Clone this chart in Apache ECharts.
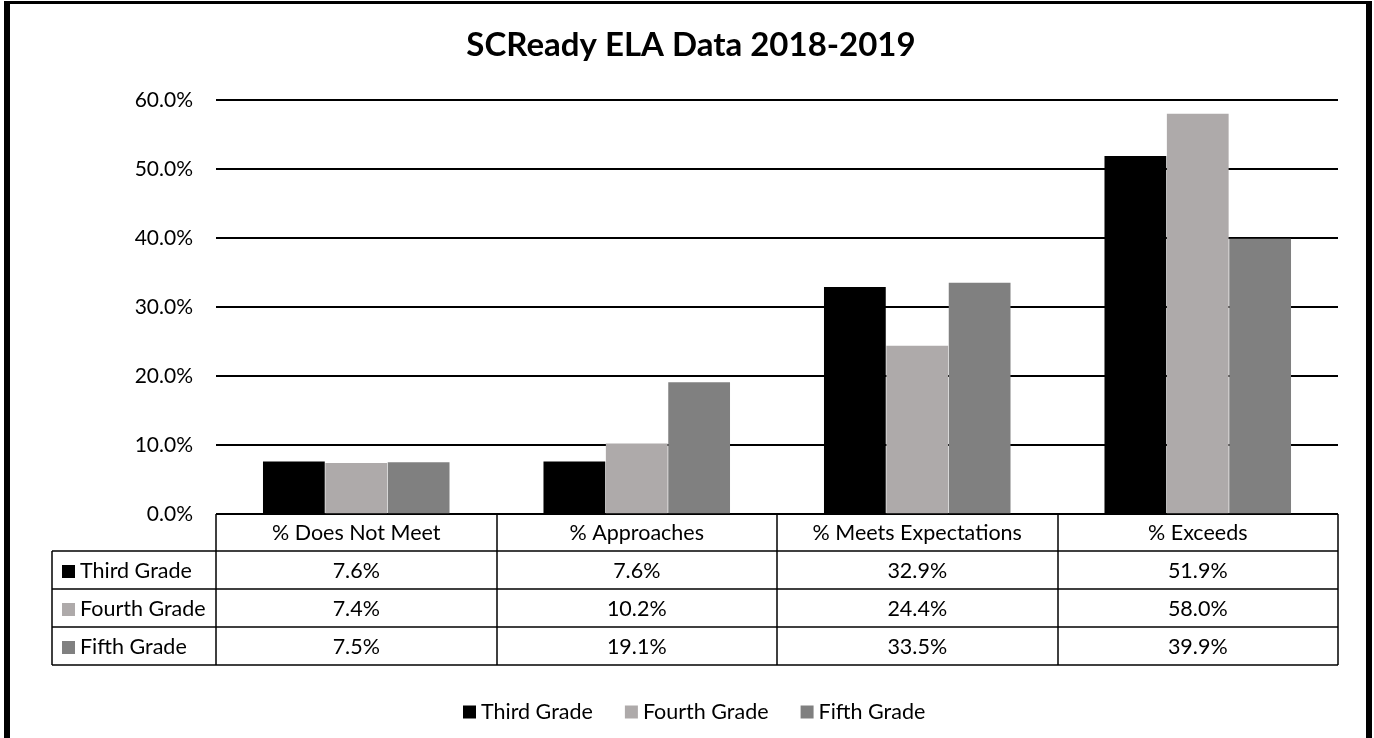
<!DOCTYPE html>
<html lang="en">
<head>
  <meta charset="UTF-8">
  <title>SCReady ELA Data 2018-2019</title>
  <style>
    html, body { margin: 0; padding: 0; width: 100%; height: 100%; background: #fff; }
    #main { width: 1374px; height: 738px; }
  </style>
  <script src="https://cdn.jsdelivr.net/npm/echarts@6/dist/echarts.min.js"></script>
</head>
<body>
  <div id="main"></div>
  <script>
    // data
    const categories = ['% Does Not Meet', '% Approaches', '% Meets Expectations', '% Exceeds'];
    const seriesNames = ['Third Grade', 'Fourth Grade', 'Fifth Grade'];
    const thirdGrade = [7.6, 7.6, 32.9, 51.9];
    const fourthGrade = [7.4, 10.2, 24.4, 58.0];
    const fifthGrade = [7.5, 19.1, 33.5, 39.9];
    const colors = ['#000000', '#AEAAAA', '#808080'];

    const values = [thirdGrade, fourthGrade, fifthGrade];
    const FONT = 'Lato';
    const fmt = v => v.toFixed(1) + '%';

    // table layout (lines up with the grid below)
    const tblLeft = 52, colLeft = 216, tblRight = 1338;
    const rowY = [514, 551, 589, 627, 665];
    const colW = (tblRight - colLeft) / categories.length;

    const myChart = echarts.init(document.getElementById('main'));

    const graphics = [];
    const line = (x1, y1, x2, y2, w) => graphics.push({
      type: 'line', shape: { x1, y1, x2, y2 },
      style: { stroke: '#000', lineWidth: w || 1.5 }, z: 100
    });
    const text = (x, y, str, align, extra) => graphics.push({
      type: 'text', x, y, z: 101,
      style: Object.assign({
        text: str, fill: '#000', font: '21.5px ' + FONT,
        textAlign: align || 'center', textVerticalAlign: 'middle'
      }, extra || {})
    });

    // outer frame
    graphics.push({ type: 'rect', shape: { x: 4, y: 1, width: 6, height: 737 }, style: { fill: '#000' } });
    graphics.push({ type: 'rect', shape: { x: 1366, y: 1, width: 6, height: 737 }, style: { fill: '#000' } });
    graphics.push({ type: 'rect', shape: { x: 4, y: 1, width: 1368, height: 3 }, style: { fill: '#000' } });

    // title
    text(691, 45, 'SCReady ELA Data 2018-2019', 'center', { font: 'bold 33px ' + FONT });

    // data table lines
    line(colLeft, rowY[0], tblRight, rowY[0]);
    for (let r = 1; r < rowY.length; r++) line(tblLeft, rowY[r], tblRight, rowY[r]);
    line(tblLeft, rowY[1], tblLeft, rowY[4]);
    for (let c = 0; c <= categories.length; c++) {
      const x = Math.round(colLeft + c * colW);
      line(x, rowY[0], x, rowY[4]);
    }
    // header
    categories.forEach((cat, c) => {
      text(colLeft + (c + 0.5) * colW, (rowY[0] + rowY[1]) / 2 + 1, cat);
    });
    // rows
    seriesNames.forEach((name, r) => {
      const cy = (rowY[r + 1] + rowY[r + 2]) / 2 + 1;
      graphics.push({
        type: 'rect', z: 101,
        shape: { x: 62, y: Math.round(cy - 6.5), width: 13, height: 13 },
        style: { fill: colors[r] }
      });
      text(80, cy, name, 'left');
      values[r].forEach((v, c) => {
        text(colLeft + (c + 0.5) * colW, cy, fmt(v));
      });
    });

    const option = {
      backgroundColor: '#fff',
      color: colors,
      animation: false,
      grid: { left: colLeft, right: 1374 - tblRight, top: 100, bottom: 738 - rowY[0] },
      legend: {
        data: seriesNames,
        top: 696,
        left: 458,
        icon: 'rect',
        itemWidth: 13,
        itemHeight: 13,
        itemGap: 32,
        textStyle: { fontFamily: FONT, fontSize: 21.5, color: '#000' }
      },
      xAxis: {
        type: 'category',
        data: categories,
        axisLine: { show: false },
        axisTick: { show: false },
        axisLabel: { show: false }
      },
      yAxis: {
        type: 'value',
        min: 0,
        max: 60,
        interval: 10,
        axisLine: { show: false },
        axisTick: { show: false },
        axisLabel: {
          formatter: fmt, margin: 23,
          fontFamily: FONT, fontSize: 21, color: '#000'
        },
        splitLine: { lineStyle: { color: '#000', width: 2 } }
      },
      series: seriesNames.map((name, i) => ({
        name,
        type: 'bar',
        data: values[i],
        barGap: '1%',
        barCategoryGap: '33.5%',
        itemStyle: { color: colors[i] }
      })),
      graphic: graphics
    };
    myChart.setOption(option);
  </script>
</body>
</html>
